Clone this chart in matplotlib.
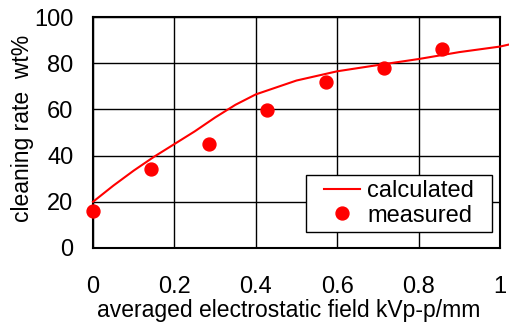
import matplotlib
matplotlib.use("Agg")
import matplotlib.pyplot as plt
from matplotlib.patches import Rectangle

plt.rcParams['font.family'] = ['Liberation Sans', 'DejaVu Sans']

# calculated curve
calc_x = [0, 0.05, 0.1, 0.15, 0.2, 0.25, 0.3, 0.35, 0.4, 0.45, 0.5, 0.6, 0.7, 0.8, 0.9, 1.0, 1.02]
calc_y = [20, 27, 33.5, 39.5, 45, 50.5, 56.5, 62, 66.5, 69.5, 72.5, 76.5, 79.2, 81.8, 84.8, 87.2, 88]

# measured points
meas_x = [0, 1/7, 2/7, 3/7, 4/7, 5/7, 6/7]
meas_y = [16, 34, 45, 59.7, 72, 77.8, 86.1]

fig = plt.figure(figsize=(5.09, 3.25), dpi=100)
ax = fig.add_axes([93/509, 1 - 248/325, 407/509, 231/325])

ax.plot(calc_x, calc_y, color='red', lw=1.5, clip_on=False, label='calculated', zorder=3)
ax.plot(meas_x, meas_y, 'o', color='red', ms=9.3, clip_on=False, label='measured', zorder=4)

ax.set_xlim(0, 1)
ax.set_ylim(0, 100)
ax.set_xticks([0, 0.2, 0.4, 0.6, 0.8, 1])
ax.set_xticklabels(['0', '0.2', '0.4', '0.6', '0.8', '1'])
ax.set_yticks([0, 20, 40, 60, 80, 100])
ax.grid(True, color='black', lw=1.0)
ax.tick_params(length=0, labelsize=17)
ax.tick_params(axis='x', pad=20)
ax.tick_params(axis='y', pad=14)
for s in ax.spines.values():
    s.set_linewidth(1.5)
    s.set_color('black')

ax.set_xlabel('averaged electrostatic field kVp-p/mm', fontsize=16.5)
ax.xaxis.set_label_coords(0.482, -0.222)
ax.set_ylabel('cleaning rate  wt%', fontsize=16.5)
ax.yaxis.set_label_coords(-0.145, 0.52)

# legend box: wide side padding like the original, so draw the frame by hand
x0, x1, y0, y1 = 0.523, 0.980, 0.069, 0.316
ax.add_patch(Rectangle((x0, y0), x1 - x0, y1 - y0, transform=ax.transAxes,
                       facecolor='white', edgecolor='black', lw=1.0, zorder=5))
leg = ax.legend(loc='center', bbox_to_anchor=((x0 + x1) / 2, (y0 + y1) / 2), fontsize=17,
                frameon=False, handlelength=1.55, borderpad=0, labelspacing=0.1,
                handletextpad=0.3, borderaxespad=0)
leg.set_zorder(6)

fig.savefig('out.png', dpi=100)
